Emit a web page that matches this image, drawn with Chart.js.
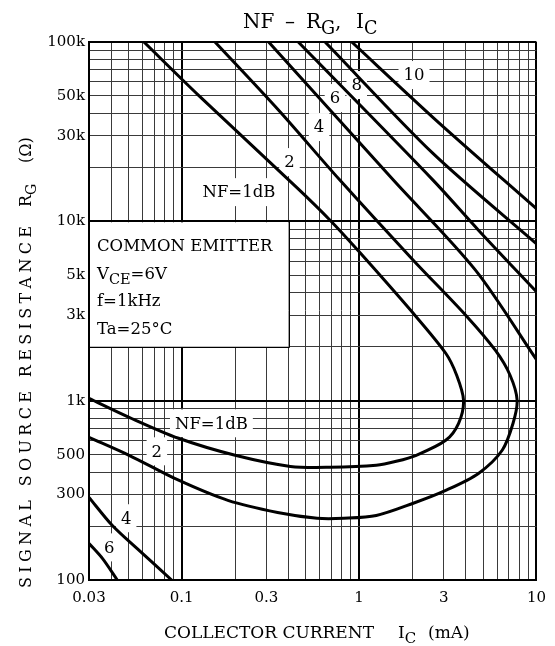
<!DOCTYPE html>
<html>
<head>
<meta charset="utf-8">
<style>
  html, body { margin: 0; padding: 0; background: #fff; }
</style>
<script src="https://cdn.jsdelivr.net/npm/chart.js@4.4.1/dist/chart.umd.min.js"></script>
</head>
<body>
<canvas id="chart" width="555" height="646"></canvas>
<script>
const SERIF = '"DejaVu Serif", serif';

// grid ticks: every 1..9 step of each decade
const xTicks = [0.03, 0.04, 0.05, 0.06, 0.07, 0.08, 0.09, 0.1, 0.2, 0.3, 0.4, 0.5, 0.6, 0.7, 0.8, 0.9,
  1, 2, 3, 4, 5, 6, 7, 8, 9, 10];
const yTicks = [100, 200, 300, 400, 500, 600, 700, 800, 900, 1000, 2000, 3000, 4000, 5000, 6000, 7000,
  8000, 9000, 10000, 20000, 30000, 40000, 50000, 60000, 70000, 80000, 90000, 100000];
const xLabelValues = [0.03, 0.1, 0.3, 1, 3, 10];
const yLabelValues = [100, 300, 500, 1000, 3000, 5000, 10000, 30000, 50000, 100000];

// NF contours, [Ic (mA), Rg (ohm)]
const nf1 = [[0.0612, 100000], [0.124, 50600], [0.449, 15320], [0.686, 10150], [1.01, 6700],
  [2.02, 3070], [3.08, 1838], [3.55, 1386], [3.88, 1005], [3.64, 748], [3.08, 601], [2.10, 496],
  [1.62, 459], [1.25, 436], [0.686, 425], [0.41, 430], [0.20, 496], [0.096, 617], [0.0505, 808],
  [0.03, 1031]];
const nf2 = [[0.154, 100000], [0.351, 41730], [0.779, 16980], [2.02, 6075], [3.99, 2997],
  [5.86, 1911], [7.10, 1386], [7.78, 1005], [7.38, 748], [6.41, 529], [4.71, 393],
  [3.08, 316], [2.02, 268], [1.25, 229], [0.82, 221], [0.58, 221], [0.347, 238], [0.182, 278],
  [0.096, 360], [0.0505, 496], [0.03, 625]];
const nf4 = [[0.309, 100000], [1.56, 16980], [4.53, 5342], [10.05, 1680]];
const nf6 = [[0.454, 100000], [2.61, 16980], [4.71, 8930], [10.05, 4026]];
const nf8 = [[0.643, 100000], [2.6, 24000], [10.05, 7460]];
const nf10 = [[0.909, 100000], [2.71, 36710], [10.05, 11700]];
const nf4Low = [[0.03, 289], [0.0405, 202], [0.0559, 150], [0.0877, 100]];
const nf6Low = [[0.03, 160], [0.0357, 132], [0.0433, 100]];

const curveLabels = [
  { text: 'NF=1dB', x: 0.21, y: 14550 },
  { text: '2', x: 0.405, y: 21400 },
  { text: '4', x: 0.595, y: 33550 },
  { text: '6', x: 0.731, y: 48690 },
  { text: '8', x: 0.970, y: 57540 },
  { text: '10', x: 2.04, y: 65430 },
  { text: 'NF=1dB', x: 0.147, y: 748 },
  { text: '2', x: 0.0724, y: 522 },
  { text: '4', x: 0.0486, y: 221 },
  { text: '6', x: 0.039, y: 152 }
];

const toPts = arr => arr.map(([x, y]) => ({ x, y }));
const curve = arr => ({
  data: toPts(arr),
  showLine: true,
  borderColor: '#000',
  borderWidth: 3,
  pointRadius: 0,
  tension: 0.3,
  clip: 0
});

// text runs with optional subscripts
function drawRich(ctx, parts, x, y, size) {
  let cx = x;
  for (const p of parts) {
    const s = p.sub ? size * 0.88 : size;
    ctx.font = `${s}px ${SERIF}`;
    ctx.fillText(p.t, cx, p.sub ? y + size * 0.3 : y);
    cx += ctx.measureText(p.t).width;
  }
}

// text stretched over a given length by spreading the letters
function drawSpread(ctx, text, x, y, size, length) {
  ctx.font = `${size}px ${SERIF}`;
  const chars = [...text];
  const widths = chars.map(c => ctx.measureText(c).width);
  const gap = (length - widths.reduce((a, b) => a + b, 0)) / (chars.length - 1);
  let cx = x;
  chars.forEach((c, i) => { ctx.fillText(c, cx, y); cx += widths[i] + gap; });
}

const isMajorX = v => v === 0.1 || v === 1 || v === 0.03 || v === 10;
const isMajorY = v => v === 1000 || v === 10000 || v === 100 || v === 100000;

// white label boxes and the conditions panel, under the curves
const annotations = {
  id: 'annotations',
  beforeDatasetsDraw(chart) {
    const { ctx, scales: { x, y } } = chart;
    ctx.save();
    // conditions panel
    const bx0 = x.getPixelForValue(0.03), bx1 = x.getPixelForValue(0.4);
    const by0 = y.getPixelForValue(10000), by1 = y.getPixelForValue(2000);
    ctx.fillStyle = '#fff';
    ctx.fillRect(bx0 + 1, by0 + 1, bx1 - bx0 - 1, by1 - by0 - 1);
    ctx.strokeStyle = '#000';
    ctx.lineWidth = 1;
    ctx.beginPath();
    ctx.moveTo(Math.round(bx1) + 0.5, by0);
    ctx.lineTo(Math.round(bx1) + 0.5, Math.round(by1) + 0.5);
    ctx.lineTo(bx0, Math.round(by1) + 0.5);
    ctx.stroke();
    ctx.fillStyle = '#000';
    ctx.textAlign = 'left';
    ctx.textBaseline = 'alphabetic';
    const tx = bx0 + 8;
    drawRich(ctx, [{ t: 'COMMON EMITTER' }], tx, by0 + 30, 16.5);
    drawRich(ctx, [{ t: 'V' }, { t: 'CE', sub: true }, { t: '=6V' }], tx, by0 + 58, 16.5);
    drawRich(ctx, [{ t: 'f=1kHz' }], tx, by0 + 85, 16.5);
    drawRich(ctx, [{ t: 'Ta=25°C' }], tx, by0 + 113, 16.5);

    // contour labels
    ctx.font = `16.5px ${SERIF}`;
    ctx.textAlign = 'center';
    ctx.textBaseline = 'middle';
    for (const l of curveLabels) {
      const px = x.getPixelForValue(l.x), py = y.getPixelForValue(l.y);
      const w = ctx.measureText(l.text).width;
      ctx.fillStyle = '#fff';
      ctx.fillRect(px - w / 2 - 5, py - 14, w + 10, 28);
      ctx.fillStyle = '#000';
      ctx.fillText(l.text, px, py + 1);
    }
    ctx.restore();
  },
  afterDraw(chart) {
    const { ctx } = chart;
    ctx.save();
    ctx.fillStyle = '#000';
    ctx.textAlign = 'left';
    ctx.textBaseline = 'alphabetic';

    // chart title
    drawRich(ctx, [{ t: 'NF' }], 243, 28, 20);
    drawRich(ctx, [{ t: '–' }], 285, 28, 20);
    drawRich(ctx, [{ t: 'R' }, { t: 'G', sub: true }, { t: ',' }], 306, 28, 20);
    drawRich(ctx, [{ t: 'I' }, { t: 'C', sub: true }], 356, 28, 20);

    // x axis title
    drawRich(ctx, [{ t: 'COLLECTOR CURRENT' }], 164, 638, 17);
    drawRich(ctx, [{ t: 'I' }, { t: 'C', sub: true }], 398, 638, 17);
    drawRich(ctx, [{ t: '(mA)' }], 428, 638, 17);

    // y axis title, reading upwards
    ctx.translate(31, 0);
    ctx.rotate(-Math.PI / 2);
    drawSpread(ctx, 'SIGNAL SOURCE RESISTANCE', -588, 0, 16, 362);
    drawRich(ctx, [{ t: 'R' }, { t: 'G', sub: true }], -207, 0, 16);
    drawRich(ctx, [{ t: '(Ω)' }], -163, 0, 16);
    ctx.restore();
  }
};

new Chart(document.getElementById('chart'), {
  type: 'scatter',
  data: {
    datasets: [nf1, nf2, nf4, nf6, nf8, nf10, nf4Low, nf6Low].map(curve)
  },
  options: {
    responsive: false,
    animation: false,
    layout: { padding: { top: 42, right: 13, left: 0, bottom: 0 } },
    plugins: { legend: { display: false }, tooltip: { enabled: false }, title: { display: false } },
    scales: {
      x: {
        type: 'logarithmic',
        min: 0.03,
        max: 10,
        afterBuildTicks: s => { s.ticks = xTicks.map(v => ({ value: v })); },
        afterFit: s => { s.height = 66; },
        grid: {
          drawTicks: false,
          color: c => isMajorX(c.tick.value) ? '#000' : '#3a3a3a',
          lineWidth: c => isMajorX(c.tick.value) ? 2 : 1
        },
        border: { display: true, color: '#000', width: 2 },
        ticks: {
          autoSkip: false,
          maxRotation: 0,
          padding: 9,
          color: '#000',
          font: { family: SERIF, size: 15 },
          callback: v => xLabelValues.includes(v) ? String(v) : ''
        }
      },
      y: {
        type: 'logarithmic',
        min: 100,
        max: 100000,
        afterBuildTicks: s => { s.ticks = yTicks.map(v => ({ value: v })); },
        afterFit: s => { s.width = 89; },
        grid: {
          drawTicks: false,
          color: c => isMajorY(c.tick.value) ? '#000' : '#3a3a3a',
          lineWidth: c => isMajorY(c.tick.value) ? 2 : 1
        },
        border: { display: true, color: '#000', width: 2 },
        ticks: {
          autoSkip: false,
          padding: 4,
          color: '#000',
          font: { family: SERIF, size: 15 },
          callback: v => yLabelValues.includes(v) ? (v >= 1000 ? v / 1000 + 'k' : String(v)) : ''
        }
      }
    }
  },
  plugins: [annotations]
});
</script>
</body>
</html>
